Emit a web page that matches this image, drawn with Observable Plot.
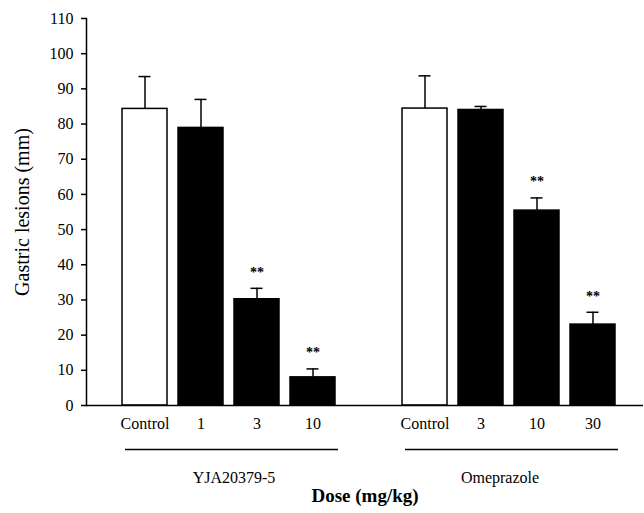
<!DOCTYPE html>
<html><head><meta charset="utf-8">
<script src="https://cdn.jsdelivr.net/npm/d3@7"></script>
<script src="https://cdn.jsdelivr.net/npm/@observablehq/plot@0.6"></script>
<style>body{margin:0;background:#fff}</style>
</head><body><div id="chart"></div>
<script>
const groups = ["YJA20379-5", "Omeprazole"];
const doses = [["Control", "1", "3", "10"], ["Control", "3", "10", "30"]];
const means = [[84.3, 78.9, 30.2, 8.0], [84.4, 84.0, 55.4, 23.0]];
const sems = [[9.2, 8.1, 3.1, 2.4], [9.3, 1.0, 3.6, 3.5]];
const significance = [["", "", "**", "**"], ["", "", "**", "**"]];
const yTicks = [0, 10, 20, 30, 40, 50, 60, 70, 80, 90, 100, 110];
const yTitle = "Gastric lesions (mm)";
const xTitle = "Dose (mg/kg)";
const GAP = "gap";

const rows = groups.flatMap((g, gi) => doses[gi].map((d, di) => ({
  group: g, dose: d, key: g + "|" + d,
  mean: means[gi][di], sem: sems[gi][di], sig: significance[gi][di]
})));
const domain = [
  ...rows.filter(r => r.group === groups[0]).map(r => r.key),
  GAP,
  ...rows.filter(r => r.group === groups[1]).map(r => r.key)
];
const groupRows = groups.map((g, gi) => ({
  group: g,
  first: g + "|" + doses[gi][0],
  last: g + "|" + doses[gi][doses[gi].length - 1],
  labelAt: g + "|" + doses[gi][1]
}));

const chart = Plot.plot({
  width: 644, height: 513,
  marginLeft: 86, marginRight: 1, marginTop: 18, marginBottom: 108,
  style: {fontFamily: "'Liberation Serif', 'Times New Roman', serif", fontSize: "16px", color: "black", background: "white"},
  x: {domain, range: [115.5, 621.5], paddingInner: 0.2, paddingOuter: 0.1, label: null, axis: null},
  y: {domain: [0, 110], label: null, axis: null},
  marks: [
    Plot.axisY({ticks: yTicks, tickSize: 5, tickPadding: 8, label: null, strokeWidth: 1.5}),
    Plot.axisX({tickSize: 0, tickPadding: 12, tickFormat: k => k === GAP ? "" : k.split("|")[1], label: null}),
    Plot.barY(rows, {x: "key", y: "mean", fill: d => d.dose === "Control" ? "white" : "black", stroke: "black", strokeWidth: 1.5}),
    Plot.ruleX(rows, {x: "key", y1: "mean", y2: d => d.mean + d.sem, strokeWidth: 1.5}),
    Plot.tickY(rows, {x: "key", y: d => d.mean + d.sem, insetLeft: 16.5, insetRight: 16.5, strokeWidth: 1.5}),
    Plot.text(rows, {x: "key", y: d => d.mean + d.sem, text: "sig", dy: -16, fontWeight: "bold", fontSize: 14}),
    Plot.ruleY([0], {strokeWidth: 1.5}),
    Plot.frame({anchor: "left", strokeWidth: 1.5}),
    Plot.ruleY(groupRows, {y: 0, x1: "first", x2: "last", dy: 44, insetLeft: 3, insetRight: -3, strokeWidth: 1.5}),
    Plot.text([groupRows[0]], {x: "labelAt", y: 0, text: "group", dy: 72, dx: 33, fontSize: 16}),
    Plot.text([groupRows[1]], {x: "labelAt", y: 0, text: "group", dy: 72, dx: 19, fontSize: 16}),
    Plot.text([xTitle], {frameAnchor: "bottom", text: d => d, dy: 96, fontSize: 19, fontWeight: "bold"}),
    Plot.text([yTitle], {frameAnchor: "left", textAnchor: "middle", text: d => d, dx: -64, rotate: -90, fontSize: 20})
  ]
});
document.getElementById("chart").appendChild(chart);
</script>
</body></html>
